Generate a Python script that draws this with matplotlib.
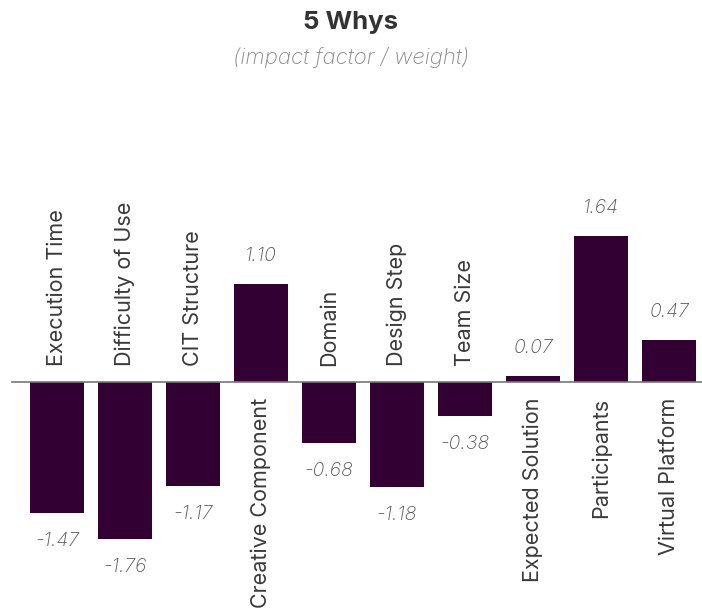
import matplotlib
matplotlib.use("Agg")
import matplotlib.pyplot as plt

categories = ["Execution Time", "Difficulty of Use", "CIT Structure",
              "Creative Component", "Domain", "Design Step", "Team Size",
              "Expected Solution", "Participants", "Virtual Platform"]
values = [-1.47, -1.76, -1.17, 1.10, -0.68, -1.18, -0.38, 0.07, 1.64, 0.47]
value_labels = ["-1.47", "-1.76", "-1.17", "1.10", "-0.68", "-1.18", "-0.38",
                "0.07", "1.64", "0.47"]

title = "5 Whys"
subtitle = "(impact factor / weight)"

FONT = ["Inter", "Lato", "DejaVu Sans"]
BAR = "#330033"
W, H = 702, 613
plt.rcParams["font.family"] = FONT

fig = plt.figure(figsize=(W / 100, H / 100), dpi=100)
ax = fig.add_axes([0, 0, 1, 1])

x0_px, step_px = 57, 68
zero_px, unit_px = 382, 89
ax.set_xlim(-x0_px / step_px, (W - x0_px) / step_px)
ax.set_ylim(-(H - zero_px) / unit_px, zero_px / unit_px)
ax.axis("off")

xs = list(range(len(categories)))
ax.bar(xs, values, width=0.8, color=BAR, zorder=2)
ax.axhline(0, xmin=12 / W, xmax=1, color="#777777", lw=1.2, zorder=3)

gap = 16 / unit_px
voff = 28 / unit_px
for x, v, cat, lab in zip(xs, values, categories, value_labels):
    sign = 1 if v >= 0 else -1
    ax.text(x, -sign * gap, cat, rotation=90, ha="center",
            va="top" if v >= 0 else "bottom", fontsize=15.5, color="#3a3a3a")
    ax.text(x, v + sign * voff, lab, ha="center", va="center", fontsize=14,
            style="italic", fontweight="light", color="#555555")

fig.text(0.5, 1 - 23 / H, title, ha="center", va="center", fontsize=18.5,
         fontweight="bold", color="#333333")
fig.text(0.5, 1 - 57 / H, subtitle, ha="center", va="center", fontsize=16,
         style="italic", fontweight="light", color="#8a8a8a")

fig.savefig("out.png", dpi=100)
